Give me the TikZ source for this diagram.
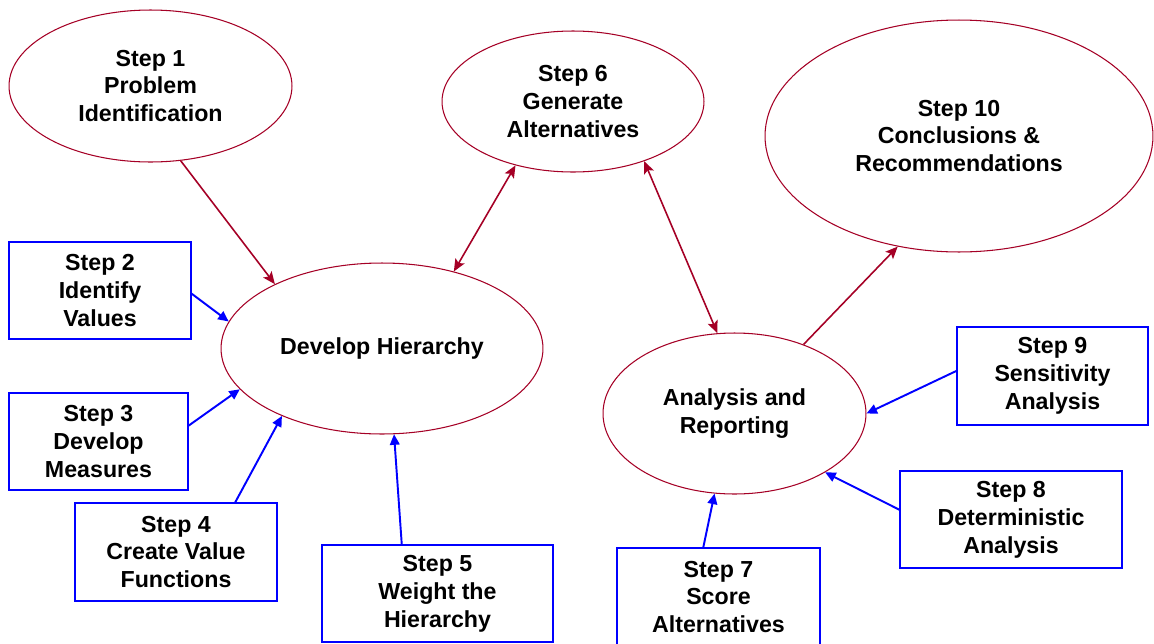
\documentclass[tikz,border=0pt]{standalone}
\usepackage{fontspec}
\setmainfont{Liberation Sans}
\usetikzlibrary{shapes.geometric,arrows.meta}
\definecolor{dred}{RGB}{165,0,38}
\definecolor{pblue}{RGB}{0,0,255}
\tikzset{
  lbl/.style={font=\fontsize{13.2}{15.9}\selectfont\bfseries, align=center, text=black},
  oval/.style={lbl, ellipse, draw=dred, line width=0.6pt, inner sep=0pt},
  stepbox/.style={lbl, rectangle, draw=pblue, line width=0.8pt, inner sep=0pt},
  redarr/.style={draw=dred, line width=0.9pt, -{Stealth[length=7pt,width=6pt,inset=1.5pt]}},
  redboth/.style={draw=dred, line width=0.9pt, {Stealth[length=7pt,width=6pt,inset=1.5pt]}-{Stealth[length=7pt,width=6pt,inset=1.5pt]}},
  bluearr/.style={draw=pblue, line width=1.1pt, -{Triangle[length=6pt,width=5.5pt]}}
}
\begin{document}
\begin{tikzpicture}[x=0.02cm,y=-0.02cm]
\useasboundingbox (0,0) rectangle (1154,643);
\fill[white] (0,0) rectangle (1154,643);
% ellipses
\node[oval, minimum width=5.66cm, minimum height=3.04cm] (s1) at (150.5,86) {Step 1\\Problem\\Identification};
\node[oval, minimum width=6.44cm, minimum height=3.42cm] (dh) at (382,348.5) {Develop Hierarchy};
\node[oval, minimum width=5.24cm, minimum height=2.82cm] (s6) at (573,101.5) {Step 6\\Generate\\Alternatives};
\node[oval, minimum width=7.76cm, minimum height=4.64cm] (s10) at (959,136) {Step 10\\Conclusions \&\\Recommendations};
\node[oval, minimum width=5.26cm, minimum height=3.22cm] (ar) at (734.5,413.5) {Analysis and\\Reporting};
% boxes
\node[stepbox, minimum width=3.64cm, minimum height=1.94cm] (b2) at (100,290.5) {Step 2\\Identify\\Values};
\node[stepbox, minimum width=3.58cm, minimum height=1.94cm] (b3) at (98.5,441.5) {Step 3\\Develop\\Measures};
\node[stepbox, minimum width=4.04cm, minimum height=1.96cm] (b4) at (176,552) {Step 4\\Create Value\\Functions};
\node[stepbox, minimum width=4.62cm, minimum height=1.94cm] (b5) at (437.5,593.5) {Step 5\\Weight the\\Hierarchy};
\node[stepbox, minimum width=4.06cm, minimum height=1.96cm] (b7) at (718.5,597) {Step 7\\Score\\Alternatives};
\node[stepbox, minimum width=4.44cm, minimum height=1.94cm] (b8) at (1011,519.5) {Step 8\\Deterministic\\Analysis};
\node[stepbox, minimum width=3.82cm, minimum height=1.96cm] (b9) at (1052.5,376) {Step 9\\Sensitivity\\Analysis};
% red connectors
\draw[redarr] (s1.-68.5) -- (dh.149.1);
\draw[redboth] (dh.47.2) -- (s6.-132.3);
\draw[redboth] (s6.-40.4) -- (ar.102.9);
\draw[redarr] (ar.45) -- (s10.-119.5);
% blue connectors
\draw[bluearr] (b2.-2.2) -- (dh.170.5);
\draw[bluearr] (b3.10.7) -- (dh.-164.6);
\draw[bluearr] (b4.40.2) -- (dh.-146.5);
\draw[bluearr] (b5.126.2) -- (dh.-82.6);
\draw[bluearr] (b7.107.6) -- (ar.-104.3);
\draw[bluearr] (b8.175.6) -- (ar.-33.5);
\draw[bluearr] (b9.177.6) -- (ar.0.65);
\end{tikzpicture}
\end{document}
